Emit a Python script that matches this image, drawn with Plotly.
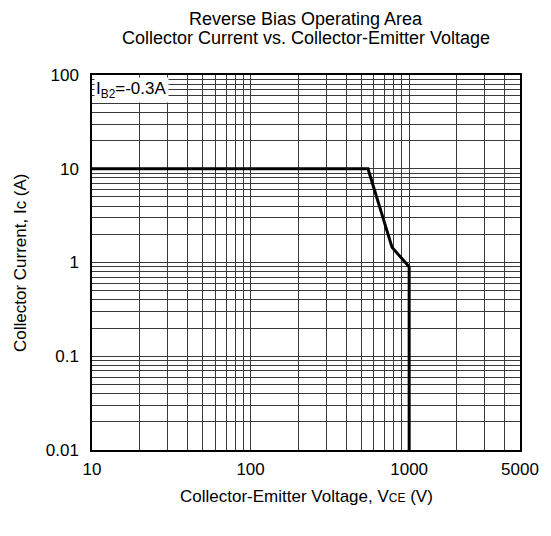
import plotly.graph_objects as go
import math

# Data
vce = [10, 550, 780, 1000, 1000]
ic = [10, 10, 1.45, 0.9, 0.01]

x_tickvals = [10, 20, 30, 40, 50, 60, 70, 80, 90, 100, 200, 300, 400, 500, 600, 700, 800, 900, 1000, 2000, 3000, 4000, 5000]
x_ticklabels = {10: "10", 100: "100", 1000: "1000", 5000: "5000"}
y_tickvals = [0.01, 0.02, 0.03, 0.04, 0.05, 0.06, 0.07, 0.08, 0.09, 0.1, 0.2, 0.3, 0.4, 0.5, 0.6, 0.7, 0.8, 0.9,
              1, 2, 3, 4, 5, 6, 7, 8, 9, 10, 20, 30, 40, 50, 60, 70, 80, 90, 100]
y_ticklabels = {0.01: "0.01", 0.1: "0.1", 1: "1", 10: "10", 100: "100"}

title_lines = ["Reverse Bias Operating Area", "Collector Current vs. Collector-Emitter Voltage"]
x_title = "Collector-Emitter Voltage, V<span style='font-size:12px'>CE</span> (V)"
y_title = "Collector Current, Ic (A)"
note = "I<sub>B2</sub>=-0.3A"

FONT = "Liberation Sans, Arial, sans-serif"

fig = go.Figure()
fig.add_trace(go.Scatter(x=vce, y=ic, mode="lines", line=dict(color="black", width=3), showlegend=False))

fig.add_annotation(x=0.005, y=0.995, xref="paper", yref="paper", xanchor="left", yanchor="top",
                   text=note, showarrow=False, bgcolor="white",
                   font=dict(family=FONT, size=17, color="black"), borderpad=1)

for txt, yy in zip(title_lines, [1.150, 1.099]):
    fig.add_annotation(x=0.5, y=yy, xref="paper", yref="paper", xanchor="center", yanchor="middle",
                       text=txt, showarrow=False, font=dict(family=FONT, size=18, color="black"))

fig.add_annotation(x=0.5, y=-0.123, xref="paper", yref="paper", xanchor="center", yanchor="middle",
                   text=x_title, showarrow=False, font=dict(family=FONT, size=17, color="black"))
fig.add_annotation(x=-0.167, y=0.5, xref="paper", yref="paper", xanchor="center", yanchor="middle",
                   text=y_title, textangle=-90, showarrow=False, font=dict(family=FONT, size=17, color="black"))

axis_common = dict(showgrid=True, gridcolor="#3a3a3a", gridwidth=1, showline=True, linecolor="black",
                   linewidth=1.5, mirror=True, ticks="", zeroline=False,
                   tickfont=dict(family=FONT, size=17, color="black"))

fig.update_xaxes(type="log", range=[1, math.log10(5000)], tickvals=x_tickvals,
                 ticktext=[x_ticklabels.get(v, "") for v in x_tickvals],
                 ticklabelstandoff=3, **axis_common)
fig.update_yaxes(type="log", range=[-2, 2], tickvals=y_tickvals,
                 ticktext=[y_ticklabels.get(v, "") for v in y_tickvals],
                 ticklabelstandoff=8, **axis_common)

fig.update_layout(
    width=543, height=528,
    margin=dict(l=84, r=29, t=67, b=86),
    paper_bgcolor="white", plot_bgcolor="white",
)

fig.write_html("out.html")
